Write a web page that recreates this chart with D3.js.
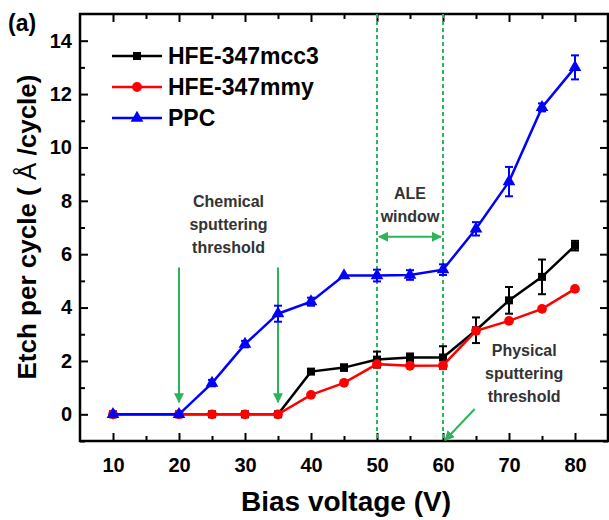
<!DOCTYPE html>
<html>
<head>
<meta charset="utf-8">
<script src="https://cdn.jsdelivr.net/npm/d3@7"></script>
<style>
  body { margin: 0; background: #fff; }
  text { font-family: Arial, "Liberation Sans", sans-serif; }
</style>
</head>
<body>
<div id="chart"></div>
<script>
// data
var voltage = [10, 20, 25, 30, 35, 40, 45, 50, 55, 60, 65, 70, 75, 80];
var mcc3 = [0, 0, 0, 0, 0, 1.6, 1.75, 2.05, 2.13, 2.13, 3.15, 4.27, 5.15, 6.32];
var mcc3Err = [0, 0, 0, 0, 0, 0.08, 0.12, 0.3, 0.15, 0.42, 0.48, 0.5, 0.65, 0.18];
var mmy = [0, 0, 0, 0, 0, 0.73, 1.18, 1.88, 1.82, 1.83, 3.13, 3.5, 3.95, 4.7];
var mmyErr = [0, 0, 0, 0, 0, 0.05, 0.05, 0.08, 0.05, 0.08, 0.1, 0.06, 0.06, 0.05];
var ppc = [0, 0, 1.17, 2.63, 3.77, 4.22, 5.2, 5.2, 5.22, 5.42, 6.95, 8.72, 11.5, 13.0];
var ppcErr = [0, 0, 0.12, 0.12, 0.3, 0.15, 0.1, 0.22, 0.18, 0.2, 0.25, 0.55, 0.15, 0.45];
var seriesNames = ["HFE-347mcc3", "HFE-347mmy", "PPC"];
var xTicks = [10, 20, 30, 40, 50, 60, 70, 80];
var yTicks = [0, 2, 4, 6, 8, 10, 12, 14];

var svgWidth = 609, svgHeight = 520;
var margin = { top: 14, right: 1, bottom: 79, left: 80 };
var width = svgWidth - margin.left - margin.right;
var height = svgHeight - margin.top - margin.bottom;

var green = "#2bb55a";
var annoColor = "#333";
var annoFont = "'Open Sans', sans-serif";

var svg = d3.select("#chart").append("svg")
    .attr("width", svgWidth)
    .attr("height", svgHeight);

var defs = svg.append("defs");
defs.append("marker")
    .attr("id", "arrow")
    .attr("viewBox", "0 0 10 10")
    .attr("refX", 9).attr("refY", 5)
    .attr("markerWidth", 5).attr("markerHeight", 5)
    .attr("orient", "auto-start-reverse")
    .append("path")
    .attr("d", "M0,0 L10,5 L0,10 z")
    .attr("fill", green);

var chartGroup = svg.append("g")
    .attr("transform", `translate(${margin.left}, ${margin.top})`);

var xScale = d3.scaleLinear().domain([5, 85]).range([0, width]);
var yScale = d3.scaleLinear().domain([-1, 15]).range([height, 0]);

// axes with inward ticks on all four sides
var xMinor = d3.range(15, 85, 10);
var yMinor = d3.range(-1, 15, 2);

function tickAxis(axisFn, scale, values, len, labels) {
    var ax = axisFn(scale).tickValues(values).tickSize(-len).tickSizeOuter(0);
    if (!labels) ax.tickFormat("");
    return ax;
}

var bottomG = chartGroup.append("g").attr("transform", `translate(0, ${height})`)
    .call(tickAxis(d3.axisBottom, xScale, xTicks, 8, true));
chartGroup.append("g").attr("transform", `translate(0, ${height})`)
    .call(tickAxis(d3.axisBottom, xScale, xMinor, 5, false));
chartGroup.append("g").call(tickAxis(d3.axisTop, xScale, xTicks, 8, false));
chartGroup.append("g").call(tickAxis(d3.axisTop, xScale, xMinor, 5, false));

var leftG = chartGroup.append("g")
    .call(tickAxis(d3.axisLeft, yScale, yTicks, 8, true));
chartGroup.append("g").call(tickAxis(d3.axisLeft, yScale, yMinor, 5, false));
chartGroup.append("g").attr("transform", `translate(${width}, 0)`)
    .call(tickAxis(d3.axisRight, yScale, yTicks, 8, false));
chartGroup.append("g").attr("transform", `translate(${width}, 0)`)
    .call(tickAxis(d3.axisRight, yScale, yMinor, 5, false));

chartGroup.selectAll(".domain").remove();
chartGroup.selectAll(".tick line").attr("stroke", "#000").attr("stroke-width", 2);
chartGroup.selectAll(".tick text")
    .attr("font-size", 20).attr("font-weight", "bold").attr("fill", "#000");
bottomG.selectAll(".tick text").attr("y", 12).attr("dy", "0.95em");
leftG.selectAll(".tick text").attr("x", -8);

chartGroup.append("rect")
    .attr("width", width).attr("height", height)
    .attr("fill", "none").attr("stroke", "#000").attr("stroke-width", 2.5);

// ALE window dashed lines
[50, 60].forEach(function(v) {
    chartGroup.append("line")
        .attr("x1", xScale(v)).attr("x2", xScale(v))
        .attr("y1", 0).attr("y2", height)
        .attr("stroke", green).attr("stroke-width", 2)
        .attr("stroke-dasharray", "4,3");
});
chartGroup.append("line")
    .attr("x1", xScale(50) + 2).attr("x2", xScale(60) - 2)
    .attr("y1", yScale(6.65)).attr("y2", yScale(6.65))
    .attr("stroke", green).attr("stroke-width", 2)
    .attr("marker-start", "url(#arrow)").attr("marker-end", "url(#arrow)");

function annotate(lines, xv, baseY) {
    chartGroup.append("text")
        .attr("y", baseY)
        .attr("text-anchor", "middle")
        .attr("font-family", annoFont).attr("font-weight", "bold")
        .attr("font-size", 16).attr("fill", annoColor)
        .selectAll("tspan").data(lines).enter().append("tspan")
        .attr("x", xScale(xv)).attr("dy", (d, i) => i ? "1.45em" : 0)
        .text(d => d);
}
annotate(["ALE", "window"], 55, 199 - margin.top);

// chemical sputtering threshold arrows
[20, 35].forEach(function(v) {
    chartGroup.append("line")
        .attr("x1", xScale(v)).attr("x2", xScale(v))
        .attr("y1", yScale(5.5)).attr("y2", yScale(0.45))
        .attr("stroke", green).attr("stroke-width", 2)
        .attr("marker-end", "url(#arrow)");
});
annotate(["Chemical", "sputtering", "threshold"], 27.5, 207 - margin.top);

// physical sputtering threshold
chartGroup.append("line")
    .attr("x1", xScale(64.8)).attr("x2", xScale(60.3))
    .attr("y1", yScale(0.2)).attr("y2", yScale(-0.97))
    .attr("stroke", green).attr("stroke-width", 2)
    .attr("marker-end", "url(#arrow)");
annotate(["Physical", "sputtering", "threshold"], 72.3, 356 - margin.top);

// series
var series = [
    { name: seriesNames[0], values: mcc3, err: mcc3Err, color: "#000000", symbol: d3.symbolSquare, size: 64 },
    { name: seriesNames[1], values: mmy, err: mmyErr, color: "#ff0000", symbol: d3.symbolCircle, size: 75 },
    { name: seriesNames[2], values: ppc, err: ppcErr, color: "#0000ff", symbol: d3.symbolTriangle, size: 70 }
];

var line = d3.line()
    .x(d => xScale(d.x))
    .y(d => yScale(d.y));

series.forEach(function(s) {
    var pts = voltage.map((v, i) => ({ x: v, y: s.values[i], e: s.err[i] }));
    var g = chartGroup.append("g");
    g.append("path")
        .datum(pts)
        .attr("d", line)
        .attr("fill", "none")
        .attr("stroke", s.color)
        .attr("stroke-width", 2.5);

    var eb = g.selectAll(".err").data(pts.filter(d => d.e > 0.1)).enter().append("g");
    eb.append("line")
        .attr("x1", d => xScale(d.x)).attr("x2", d => xScale(d.x))
        .attr("y1", d => yScale(d.y - d.e)).attr("y2", d => yScale(d.y + d.e))
        .attr("stroke", s.color).attr("stroke-width", 2);
    [-1, 1].forEach(function(sign) {
        eb.append("line")
            .attr("x1", d => xScale(d.x) - 4).attr("x2", d => xScale(d.x) + 4)
            .attr("y1", d => yScale(d.y + sign * d.e)).attr("y2", d => yScale(d.y + sign * d.e))
            .attr("stroke", s.color).attr("stroke-width", 2);
    });

    g.selectAll(".pt").data(pts).enter().append("path")
        .attr("d", d3.symbol().type(s.symbol).size(s.size))
        .attr("transform", d => `translate(${xScale(d.x)}, ${yScale(d.y)})`)
        .attr("fill", s.color);
});

// legend
var legend = chartGroup.append("g")
    .attr("transform", `translate(${112 - margin.left}, ${56 - margin.top})`);
series.forEach(function(s, i) {
    var row = legend.append("g").attr("transform", `translate(0, ${i * 31})`);
    row.append("line")
        .attr("x1", 0).attr("x2", 50)
        .attr("stroke", s.color).attr("stroke-width", 2.5);
    row.append("path")
        .attr("d", d3.symbol().type(s.symbol).size(s.size))
        .attr("transform", "translate(25, 0)")
        .attr("fill", s.color);
    row.append("text")
        .attr("x", 56).attr("dy", "0.36em")
        .attr("font-size", 23).attr("font-weight", "bold")
        .text(s.name);
});

// axis titles and panel label
var yTitle = svg.append("text")
    .attr("transform", `translate(36, 227) rotate(-90)`)
    .attr("text-anchor", "middle")
    .attr("font-size", 26).attr("font-weight", "bold");
yTitle.append("tspan").text("Etch per cycle ( ");
yTitle.append("tspan").attr("font-weight", "normal").text("Å");
yTitle.append("tspan").text(" /cycle)");

svg.append("text")
    .attr("x", 346).attr("y", 511)
    .attr("text-anchor", "middle")
    .attr("font-size", 28).attr("font-weight", "bold")
    .text("Bias voltage (V)");
svg.append("text")
    .attr("x", 8).attr("y", 31)
    .attr("font-size", 23).attr("font-weight", "bold")
    .text("(a)");
</script>
</body>
</html>
